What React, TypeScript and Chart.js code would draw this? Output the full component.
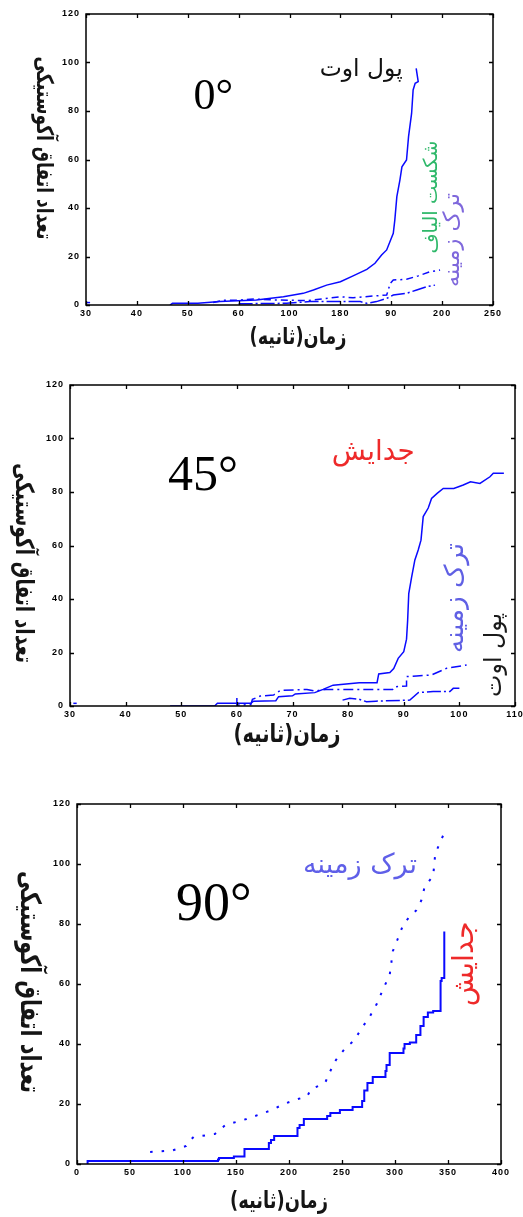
import React, { useEffect, useRef } from 'react';
import { Chart, registerables } from 'chart.js';
Chart.register(...registerables);

// ---------- tick labels ----------
const yTickStep = 20;
const xLabels0 = ['30', '40', '50', '60', '100', '180', '90', '200', '250'];
const xLabels45 = ['30', '40', '50', '60', '70', '80', '90', '100', '110'];
const xLabels90 = ['0', '50', '100', '150', '200', '250', '300', '350', '400'];

// ---------- panel 0° ----------
const pullOut0X = [46.5, 47, 52, 56.3, 63.5, 68.8, 72.7, 74.7, 77.3, 80, 82.5, 85.2, 86.8, 88.1, 89.1, 90.4, 90.7, 91.1, 91.7, 92.1, 93, 93.4, 94, 94.3, 94.7, 95.3, 94.9];
const pullOut0Y = [0, 0.7, 0.7, 1.4, 2.1, 3.4, 4.8, 6.2, 8.2, 9.6, 12, 14.7, 17.2, 20.6, 22.7, 29.6, 35, 44.7, 51.5, 57, 59.8, 69.4, 79, 88.7, 91.4, 92.1, 97.6];
const fiber0X = [55, 57, 60, 63, 66.8, 73.4, 79.9, 82.5, 86.5, 89.1, 89.8, 90.4, 93, 95.3, 97.6, 99.6];
const fiber0Y = [1, 2, 2, 2.5, 2.1, 1.8, 3.4, 3, 3.7, 4.1, 8.9, 10.3, 10.6, 12, 13.7, 14.4];
const matrix0X = [60, 69.4, 74, 83.9, 85.2, 87.1, 89.1, 90.4, 93, 95, 97, 98.6];
const matrix0Y = [0.5, 0.7, 1.4, 1.4, 0.7, 1.4, 2.7, 4.1, 4.8, 6.2, 7.6, 8.2];
const start0X = [30.1, 30.8];
const start0Y = [1, 1];

// ---------- panel 45° ----------
const delam45X = [48, 56, 56.5, 62.5, 63, 67, 67.5, 70, 70.5, 74, 75.5, 77.3, 82, 85.2, 85.5, 87.5, 88.2, 89, 90, 90.5, 90.7, 90.9, 91.4, 92, 92.6, 93.1, 93.5, 94.4, 95, 96, 97.1, 99, 100.7, 102, 103.7, 105.5, 106.1, 108];
const delam45Y = [0, 0, 1, 1, 1.8, 2, 3.5, 3.8, 4.5, 5, 6.2, 7.8, 8.7, 8.7, 12, 12.5, 14, 17.8, 20.3, 25, 32, 42, 48, 54.6, 58.3, 62, 70.8, 74, 77.6, 79.5, 81.3, 81.3, 82.6, 83.8, 83.2, 85.7, 87, 87];
const matrix45X = [60, 60, 62.5, 62.8, 64.2, 66.6, 67.8, 72.6, 74, 76, 88, 88.4, 90.5, 90.5, 92.3, 95, 97.7, 101.3];
const matrix45Y = [3, 0.3, 0.5, 2.5, 3.7, 4.1, 5.8, 6.2, 5.6, 6.2, 6.2, 7.2, 7.5, 11, 11.2, 11.6, 14.1, 15.3];
const pullOut45X = [79, 80.3, 82, 83.3, 85, 91.1, 92.6, 95.3, 98.3, 98.9, 100];
const pullOut45Y = [2.2, 2.9, 2.5, 1.6, 1.8, 2.2, 5, 5.4, 5.4, 6.6, 6.6];
const start45X = [30.6, 31.2];
const start45Y = [1, 1];

// ---------- panel 90° ----------
const delam90X = [10, 12, 133, 134, 148, 158, 160, 181, 183, 186, 191, 208, 210, 214, 220, 236, 239, 248, 252, 260, 261, 269, 271, 274, 279, 282, 291, 292, 295, 297, 308, 309, 314, 320, 324, 327, 331, 336, 343, 344, 346.5, 346.5];
const delam90Y = [0, 1, 1, 1.5, 2, 2.5, 5, 5, 7, 8, 9.3, 9.3, 12, 13, 15, 15, 16, 17, 18, 18, 19, 19, 21, 24.5, 27, 29, 29, 31, 33, 37, 37, 38.5, 40, 40.5, 43, 46, 49, 50.5, 51, 61, 62, 77.5];
const matrix90X = [69, 90, 103, 107, 110, 130, 140, 160, 176, 184, 195, 207, 217, 221, 234, 239, 244, 247, 254, 261, 270, 276, 283, 289, 295, 298, 302, 308, 314, 320, 325, 328, 336, 338, 346];
const matrix90Y = [4, 4.5, 6, 8, 9, 10, 13, 15, 17, 18, 20, 21.5, 22.5, 25, 27, 31, 34.5, 36, 39, 41, 46, 49, 53.5, 58.5, 63, 71, 74.5, 80, 82.5, 84.5, 88, 92.5, 96, 103.5, 110];

// ---------- texts ----------
const xTitle = 'زمان(ثانیه)';
const yTitle = 'تعداد اتفاق آکوستیکی';
const lblPullOut = 'پول اوت';
const lblFiber = 'شکست الیاف';
const lblMatrix = 'ترک زمینه';
const lblDelam = 'جدایش';

const BLUE = '#0a0aff';
const ARABIC = '"DejaVu Sans", sans-serif';

const pts = (xs: number[], ys: number[]) => xs.map((x, i) => ({ x, y: ys[i] }));

type Note = { text: string; x: number; y: number; width?: number; size?: number; color: string; rot: number; serif?: boolean };
type Panel = {
  height: number;
  area: { left: number; top: number; right: number; bottom: number };
  xMin: number; xMax: number; xStep: number; xLabels: string[];
  xTitlePos: [number, number, number];
  yTitlePos: [number, number, number];
  notes: Note[];
  datasets: any[];
};

const line = (data: any[], dash: number[] = [], width = 1.5, stepped: any = false) => ({
  data,
  borderColor: BLUE,
  borderWidth: width,
  borderDash: dash,
  pointRadius: 0,
  fill: false,
  tension: 0,
  stepped,
});

const panels: Panel[] = [
  {
    height: 360,
    area: { left: 86, top: 14, right: 493, bottom: 305 },
    xMin: 30, xMax: 110, xStep: 10, xLabels: xLabels0,
    xTitlePos: [298, 338, 97],
    yTitlePos: [43, 148, 183],
    notes: [
      { text: '0°', x: 55, y: 85.4, size: 44, color: '#000', rot: 0, serif: true },
      { text: lblPullOut, x: 84.1, y: 96.9, width: 83, color: '#111', rot: 0 },
      { text: lblFiber, x: 98, y: 44.5, width: 113, color: '#2fb86a', rot: -Math.PI / 2 },
      { text: lblMatrix, x: 102.1, y: 26.8, width: 94, color: '#7f68dc', rot: -Math.PI / 2 },
    ],
    datasets: [
      line(pts(pullOut0X, pullOut0Y)),
      line(pts(fiber0X, fiber0Y), [7, 4, 2, 4]),
      line(pts(matrix0X, matrix0Y), [14, 3, 2, 3]),
      line(pts(start0X, start0Y)),
    ],
  },
  {
    height: 400,
    area: { left: 70, top: 25, right: 515, bottom: 346 },
    xMin: 30, xMax: 110, xStep: 10, xLabels: xLabels45,
    xTitlePos: [287, 375, 107],
    yTitlePos: [23, 203, 200],
    notes: [
      { text: '45°', x: 53.9, y: 85.6, size: 50, color: '#000', rot: 0, serif: true },
      { text: lblDelam, x: 84.5, y: 94.6, width: 83, color: '#ee2a2a', rot: 0 },
      { text: lblMatrix, x: 99.4, y: 40.4, width: 110, color: '#6060e4', rot: -Math.PI / 2 },
      { text: lblPullOut, x: 106.4, y: 19.1, width: 84, color: '#1a1a1a', rot: -Math.PI / 2 },
    ],
    datasets: [
      line(pts(delam45X, delam45Y)),
      line(pts(matrix45X, matrix45Y), [10, 4, 2, 4]),
      line(pts(pullOut45X, pullOut45Y), [14, 3, 2, 3]),
      line(pts(start45X, start45Y)),
    ],
  },
  {
    height: 457,
    area: { left: 77, top: 44, right: 501, bottom: 404 },
    xMin: 0, xMax: 400, xStep: 50, xLabels: xLabels90,
    xTitlePos: [279, 442, 98],
    yTitlePos: [28, 222, 222],
    notes: [
      { text: '90°', x: 129, y: 86, size: 54, color: '#000', rot: 0, serif: true },
      { text: lblMatrix, x: 267, y: 99.3, width: 114, color: '#5f5fe8', rot: 0 },
      { text: lblDelam, x: 367, y: 66.7, width: 85, color: '#ee2a2a', rot: -Math.PI / 2 },
    ],
    datasets: [
      line(pts(delam90X, delam90Y), [], 2, 'after'),
      line(pts(matrix90X, matrix90Y), [2.5, 9], 2),
    ],
  },
];

function drawText(ctx: CanvasRenderingContext2D, text: string, cx: number, cy: number, opts: { width?: number; size?: number; family: string; bold: boolean; color: string; rot: number; rtl: boolean; stretch?: number }) {
  ctx.save();
  const weight = opts.bold ? 'bold ' : '';
  let size = opts.size || 20;
  if (opts.width) {
    ctx.font = `${weight}20px ${opts.family}`;
    const w = ctx.measureText(text).width;
    size = (20 * opts.width) / w;
  }
  ctx.font = `${weight}${size}px ${opts.family}`;
  (ctx as any).direction = opts.rtl ? 'rtl' : 'ltr';
  ctx.translate(cx, cy);
  ctx.rotate(opts.rot);
  ctx.scale(1, opts.stretch || 1);
  ctx.fillStyle = opts.color;
  ctx.textAlign = 'center';
  ctx.textBaseline = 'middle';
  ctx.fillText(text, 0, 0);
  ctx.restore();
}

function makePlugin(p: Panel) {
  return {
    id: 'overlay',
    beforeDraw(chart: any) {
      (chart.ctx as any).letterSpacing = '1px';
    },
    beforeDatasetsDraw(chart: any) {
      (chart.ctx as any).letterSpacing = '0px';
    },
    afterDraw(chart: any) {
      const ctx: CanvasRenderingContext2D = chart.ctx;
      (ctx as any).letterSpacing = '0px';
      const a = chart.chartArea;
      const xs = chart.scales.x;
      const ys = chart.scales.y;
      ctx.save();
      ctx.strokeStyle = '#000';
      ctx.lineWidth = 1.5;
      ctx.strokeRect(a.left, a.top, a.right - a.left, a.bottom - a.top);
      ctx.lineWidth = 1.3;
      ctx.beginPath();
      for (const t of xs.ticks) {
        const px = Math.round(xs.getPixelForValue(t.value)) + 0.5;
        ctx.moveTo(px, a.bottom); ctx.lineTo(px, a.bottom - 4);
        ctx.moveTo(px, a.top); ctx.lineTo(px, a.top + 4);
      }
      for (const t of ys.ticks) {
        const py = Math.round(ys.getPixelForValue(t.value)) + 0.5;
        ctx.moveTo(a.left, py); ctx.lineTo(a.left + 4, py);
        ctx.moveTo(a.right, py); ctx.lineTo(a.right - 4, py);
      }
      ctx.stroke();
      ctx.restore();

      for (const n of p.notes) {
        const cx = xs.getPixelForValue(n.x);
        const cy = ys.getPixelForValue(n.y);
        drawText(ctx, n.text, cx, cy, {
          width: n.width, size: n.size,
          family: n.serif ? '"Liberation Serif", serif' : ARABIC,
          bold: false, color: n.color, rot: n.rot, rtl: !n.serif,
        });
      }
      const [tx, ty, tw] = p.xTitlePos;
      drawText(ctx, xTitle, tx, ty, { width: tw, family: ARABIC, bold: true, color: '#151515', rot: 0, rtl: true, stretch: 1.3 });
      const [yx, yy, yw] = p.yTitlePos;
      drawText(ctx, yTitle, yx, yy, { width: yw, family: ARABIC, bold: true, color: '#151515', rot: Math.PI / 2, rtl: true, stretch: 1.35 });
    },
  };
}

function PanelChart({ p }: { p: Panel }) {
  const ref = useRef<HTMLCanvasElement>(null);
  useEffect(() => {
    if (!ref.current) return;
    const W = 523;
    const chart = new Chart(ref.current, {
      type: 'line',
      data: { datasets: p.datasets },
      options: {
        animation: false,
        responsive: false,
        devicePixelRatio: 1,
        layout: { padding: { left: 0, top: p.area.top, right: W - p.area.right, bottom: 0 } },
        plugins: { legend: { display: false }, tooltip: { enabled: false }, title: { display: false } },
        scales: {
          x: {
            type: 'linear',
            min: p.xMin, max: p.xMax,
            grid: { display: false, drawTicks: false },
            border: { display: false },
            ticks: {
              stepSize: p.xStep, autoSkip: false, maxRotation: 0, padding: 3,
              color: '#000', font: { family: '"Liberation Sans", sans-serif', size: 9, weight: 'bold' },
              callback: (_v: any, i: number) => p.xLabels[i],
            },
            afterFit: (s: any) => {
              s.height = p.height - p.area.bottom;
              s.paddingLeft = 0; s.paddingRight = 0;
            },
          },
          y: {
            type: 'linear',
            min: 0, max: 120,
            grid: { display: false, drawTicks: false },
            border: { display: false },
            ticks: {
              stepSize: yTickStep, padding: 6,
              color: '#000', font: { family: '"Liberation Sans", sans-serif', size: 9, weight: 'bold' },
            },
            afterFit: (s: any) => {
              s.width = p.area.left;
              s.paddingTop = 0; s.paddingBottom = 0;
            },
          },
        },
      } as any,
      plugins: [makePlugin(p)],
    });
    return () => chart.destroy();
  }, [p]);
  return <canvas ref={ref} width={523} height={p.height} style={{ display: 'block', width: 523, height: p.height }} />;
}

export default function App() {
  return (
    <div style={{ position: 'absolute', left: 0, top: 0, width: 523, height: 1217, background: '#fff' }}>
      {panels.map((p, i) => (
        <PanelChart key={i} p={p} />
      ))}
    </div>
  );
}
